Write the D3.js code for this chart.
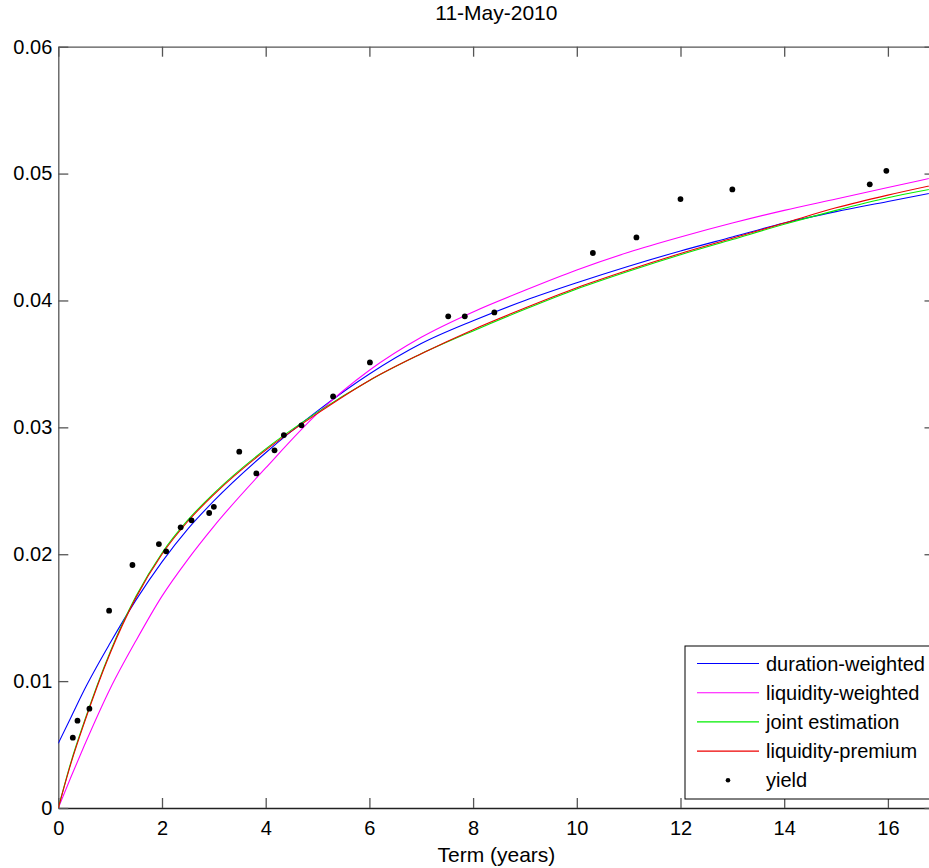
<!DOCTYPE html>
<html>
<head>
<meta charset="utf-8">
<script src="https://cdn.jsdelivr.net/npm/d3@7"></script>
<style>
  body { margin: 0; background: #fff; }
  text { font-family: "Liberation Sans", Arial, sans-serif; fill: #000; }
</style>
</head>
<body>
<div id="chart"></div>
<script>
// data
var chartTitle = "11-May-2010";
var xLabel = "Term (years)";
var xTicks = [0, 2, 4, 6, 8, 10, 12, 14, 16];
var yTicks = [0, 0.01, 0.02, 0.03, 0.04, 0.05, 0.06];
var yTickLabels = ["0", "0.01", "0.02", "0.03", "0.04", "0.05", "0.06"];

// fitted curves, sampled along the term axis
var curveTerms = [0, 0.25, 0.5, 1, 1.5, 2, 2.5, 3, 4, 5, 6, 7, 8, 9, 10, 11, 12, 13, 14, 15, 16, 17];
var durationWeighted = [0.0051, 0.0072, 0.0093, 0.0130, 0.0164, 0.0194, 0.0220, 0.0242, 0.0280, 0.0313, 0.0342, 0.0366, 0.0384, 0.0400, 0.0414, 0.0427, 0.0439, 0.0450, 0.0461, 0.0470, 0.0478, 0.0486];
var liquidityWeighted = [0, 0.0025, 0.0049, 0.0094, 0.0132, 0.0167, 0.0196, 0.0222, 0.0268, 0.0311, 0.0345, 0.0371, 0.0391, 0.0408, 0.0424, 0.0438, 0.0450, 0.0461, 0.0471, 0.0480, 0.0489, 0.0498];
var jointEstimation = [0, 0.0037, 0.0068, 0.0123, 0.0167, 0.0201, 0.0227, 0.0248, 0.0283, 0.0312, 0.0337, 0.0358, 0.0376, 0.0393, 0.0409, 0.0423, 0.0436, 0.0448, 0.0460, 0.0471, 0.0481, 0.0489];
var liquidityPremium = [0, 0.0036, 0.0067, 0.0122, 0.0166, 0.0200, 0.0226, 0.0247, 0.0282, 0.0311, 0.0337, 0.0358, 0.0377, 0.0394, 0.0410, 0.0424, 0.0437, 0.0449, 0.0461, 0.0473, 0.0483, 0.0492];

// observed yields
var yieldTerms = [0.28, 0.37, 0.60, 0.98, 1.43, 1.94, 2.08, 2.36, 2.57, 2.91, 3.00, 3.49, 3.82, 4.17, 4.35, 4.69, 5.30, 6.01, 7.52, 7.84, 8.41, 10.31, 11.15, 12.00, 13.00, 15.65, 15.97];
var yieldValues = [0.00554, 0.00688, 0.00783, 0.01555, 0.01915, 0.0208, 0.02023, 0.02212, 0.02267, 0.02325, 0.02374, 0.02808, 0.02637, 0.02819, 0.02939, 0.03016, 0.03244, 0.03512, 0.03875, 0.03875, 0.03906, 0.04374, 0.04497, 0.04799, 0.04875, 0.04915, 0.05022];

var seriesNames = ["duration-weighted", "liquidity-weighted", "joint estimation", "liquidity-premium"];
var seriesValues = [durationWeighted, liquidityWeighted, jointEstimation, liquidityPremium];
var seriesColors = ["#0000ff", "#ff00ff", "#00ee00", "#ee0000"];

var svgWidth = 929;
var svgHeight = 868;

var plot = { left: 58.3, right: 934.5, top: 46.7, bottom: 808 };

var svg = d3.select("#chart")
  .append("svg")
  .attr("width", svgWidth)
  .attr("height", svgHeight);

var xScale = d3.scaleLinear()
  .domain([0, (plot.right - plot.left) / 51.85])
  .range([plot.left, plot.right]);

var yScale = d3.scaleLinear()
  .domain([0, 0.06])
  .range([plot.bottom, plot.top]);

var tickLen = 10;

// clip for curves
svg.append("clipPath")
  .attr("id", "plotClip")
  .append("rect")
  .attr("x", plot.left)
  .attr("y", plot.top)
  .attr("width", plot.right - plot.left)
  .attr("height", plot.bottom - plot.top);

// box with inward ticks (matlab style)
var bottomAxis = d3.axisBottom(xScale).tickValues(xTicks).tickSizeInner(-tickLen).tickSizeOuter(0).tickPadding(13);
var topAxis = d3.axisTop(xScale).tickValues(xTicks).tickSizeInner(-tickLen).tickSizeOuter(0).tickFormat("");
var leftAxis = d3.axisLeft(yScale).tickValues(yTicks).tickSizeInner(-tickLen).tickSizeOuter(0).tickPadding(6)
  .tickFormat((d, i) => yTickLabels[i]);
var rightAxis = d3.axisRight(yScale).tickValues(yTicks).tickSizeInner(-tickLen).tickSizeOuter(0).tickFormat("");

var xAxisG = svg.append("g")
  .attr("transform", `translate(0, ${plot.bottom})`)
  .call(bottomAxis);
svg.append("g")
  .attr("transform", `translate(0, ${plot.top})`)
  .call(topAxis);
var yAxisG = svg.append("g")
  .attr("transform", `translate(${plot.left}, 0)`)
  .call(leftAxis);
svg.append("g")
  .attr("transform", `translate(${plot.right}, 0)`)
  .call(rightAxis);

svg.selectAll(".domain").attr("stroke", "#555").attr("stroke-width", 1.3);
svg.selectAll(".tick line").attr("stroke", "#555").attr("stroke-width", 1.3);
xAxisG.select(".domain").attr("stroke", "#222");

xAxisG.selectAll("text")
  .style("font-size", "20px")
  .attr("font-family", null);
yAxisG.selectAll("text")
  .style("font-size", "20px")
  .attr("font-family", null);

// fitted curves
var line = d3.line()
  .x(d => xScale(d[0]))
  .y(d => yScale(d[1]))
  .curve(d3.curveMonotoneX);

var curvesGroup = svg.append("g").attr("clip-path", "url(#plotClip)");

seriesValues.forEach(function(vals, i) {
  var pts = curveTerms.map((t, j) => [t, vals[j]]);
  curvesGroup.append("path")
    .datum(pts)
    .attr("fill", "none")
    .attr("stroke", seriesColors[i])
    .attr("stroke-width", 1.1)
    .attr("d", line);
});

// yield points
svg.append("g")
  .selectAll("circle")
  .data(yieldTerms)
  .enter()
  .append("circle")
  .attr("cx", d => xScale(d))
  .attr("cy", (d, i) => yScale(yieldValues[i]))
  .attr("r", 2.9)
  .attr("fill", "#000");

// title and axis label
svg.append("text")
  .attr("x", (plot.left + plot.right) / 2)
  .attr("y", 20)
  .attr("text-anchor", "middle")
  .style("font-size", "21px")
  .text(chartTitle);

svg.append("text")
  .attr("x", (plot.left + plot.right) / 2)
  .attr("y", 862)
  .attr("text-anchor", "middle")
  .style("font-size", "21px")
  .text(xLabel);

// legend
var legend = svg.append("g").attr("transform", "translate(685, 646)");

legend.append("rect")
  .attr("x", 0)
  .attr("y", 0)
  .attr("width", 250)
  .attr("height", 153)
  .attr("fill", "#fff")
  .attr("stroke", "#000")
  .attr("stroke-width", 1);

var legendRows = seriesNames.concat(["yield"]);

legendRows.forEach(function(name, i) {
  var rowY = 17.5 + i * 29.2;
  if (i < seriesNames.length) {
    legend.append("line")
      .attr("x1", 12)
      .attr("x2", 74)
      .attr("y1", rowY)
      .attr("y2", rowY)
      .attr("stroke", seriesColors[i])
      .attr("stroke-width", 1.1);
  } else {
    legend.append("circle")
      .attr("cx", 43)
      .attr("cy", rowY)
      .attr("r", 2.3)
      .attr("fill", "#000");
  }
  legend.append("text")
    .attr("x", 81)
    .attr("y", rowY + 7)
    .style("font-size", "20px")
    .text(name);
});
</script>
</body>
</html>
